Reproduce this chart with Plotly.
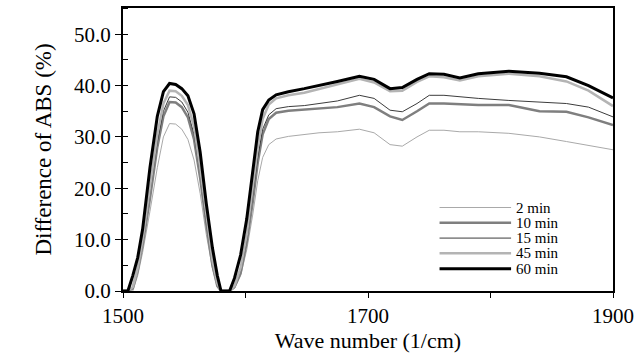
import plotly.graph_objects as go

wavenumber = [1500, 1504, 1508, 1512, 1516, 1522, 1528, 1533, 1538, 1543, 1548, 1553, 1558, 1563, 1568,
              1573, 1577, 1580, 1584, 1587, 1591, 1596, 1601, 1606, 1610, 1614, 1619, 1625, 1635, 1648,
              1660, 1675, 1693, 1705, 1718, 1728, 1740, 1750, 1762, 1775, 1790, 1815, 1840, 1862, 1880, 1900]

abs_2min = [0, 0, 0, 3, 7.5, 15.5, 24, 30, 32.6, 32.5, 31.5, 29.5, 25.5, 19, 11,
            4.5, 0.8, 0, 0, 0, 0.5, 3, 8, 15, 21.5, 26, 28.5, 29.6, 30.1, 30.5,
            30.8, 31.0, 31.5, 30.8, 28.5, 28.2, 30.0, 31.3, 31.3, 31.0, 31.0, 30.7, 30.0, 29.1, 28.3, 27.5]
abs_10min = [0, 0, 0.5, 4, 9, 18, 28, 34, 36.8, 36.7, 35.8, 33.8, 29.5, 22, 13,
             5, 1, 0, 0, 0, 0.8, 3.5, 9.5, 17.5, 25, 30.5, 33.5, 34.7, 35.1, 35.3,
             35.5, 35.8, 36.5, 35.8, 34.0, 33.3, 35.0, 36.5, 36.5, 36.3, 36.2, 36.2, 35.0, 34.9, 33.8, 32.3]
abs_15min = [0, 0, 0.8, 4.5, 9.5, 19, 29, 35, 37.8, 37.7, 36.8, 34.8, 30.5, 23, 13.5,
             5.5, 1.2, 0, 0, 0, 1, 4, 10, 18.5, 26, 31.5, 34.3, 35.5, 35.9, 36.1,
             36.5, 37.0, 38.1, 37.5, 35.2, 34.9, 36.5, 38.1, 38.1, 37.8, 37.5, 37.1, 36.8, 36.5, 35.8, 33.9]
abs_45min = [0, 0, 0.8, 4.5, 10, 20, 30.5, 36.5, 39.0, 38.9, 38.0, 36.2, 32, 24, 14.5,
             6, 1.5, 0, 0, 0, 1, 4.5, 11, 20, 28, 33.5, 36.3, 37.5, 38.1, 38.6,
             39.3, 40.2, 41.3, 40.6, 38.9, 39.0, 40.7, 41.8, 41.6, 41.0, 41.8, 42.3, 41.8, 40.8, 39.0, 36.0]
abs_60min = [0, 0, 3, 6.5, 12, 24, 34, 38.8, 40.4, 40.2, 39.4, 38.0, 34.5, 27, 17,
             8.4, 3, 0, 0, 0, 2.5, 7, 14, 24, 31, 35.3, 37.2, 38.2, 38.8, 39.4,
             40.0, 40.8, 41.8, 41.2, 39.4, 39.6, 41.2, 42.3, 42.2, 41.5, 42.3, 42.8, 42.4, 41.7, 40.0, 37.6]

series_names = ["2 min", "10 min", "15 min", "45 min", "60 min"]
series_values = [abs_2min, abs_10min, abs_15min, abs_45min, abs_60min]
series_colors = ["#a9a9a9", "#7f7f7f", "#3c3c3c", "#b4b4b4", "#000000"]
series_widths = [1, 2.5, 1, 2.5, 3]

font_family = "Liberation Serif"

fig = go.Figure()
for i in range(len(series_names)):
    fig.add_trace(go.Scatter(
        x=wavenumber, y=series_values[i], mode="lines", name=series_names[i],
        line=dict(color=series_colors[i], width=series_widths[i]),
        showlegend=False,
    ))

# manual legend (line samples + labels) inside bottom-right of plot area
legend_y = [0.295, 0.241, 0.187, 0.133, 0.079]
for i, name in enumerate(series_names):
    fig.add_shape(type="line", xref="paper", yref="paper",
                  x0=0.646, x1=0.792, y0=legend_y[i], y1=legend_y[i],
                  line=dict(color=series_colors[i], width=series_widths[i]))
    fig.add_annotation(xref="paper", yref="paper", x=0.800, y=legend_y[i],
                       text=name, showarrow=False, xanchor="left", yanchor="middle",
                       borderpad=0,
                       font=dict(family=font_family, size=15, color="black"))

fig.update_layout(
    width=640, height=363,
    margin=dict(l=123, r=26, t=6, b=72),
    paper_bgcolor="white", plot_bgcolor="white",
    font=dict(family=font_family, size=20, color="black"),
    showlegend=False,
)
fig.update_xaxes(
    range=[1500, 1900], tickvals=[1500, 1700, 1900], ticktext=["1500", "1700", "1900"],
    ticks="outside", ticklen=5, tickcolor="black", tickwidth=1,
    minor=dict(dtick=100, ticks="outside", ticklen=5, tickcolor="black"),
    showline=True, linecolor="black", linewidth=2, mirror=True,
    showgrid=False, zeroline=False,
    title=dict(text="Wave number (1/cm)", font=dict(family=font_family, size=22), standoff=4),
    tickfont=dict(family=font_family, size=21),
)
fig.update_yaxes(
    range=[0, 55.1], tickvals=[0, 10, 20, 30, 40, 50], tickformat=".1f",
    ticks="outside", ticklen=6, tickcolor="black", tickwidth=1,
    minor=dict(dtick=5, ticks="inside", ticklen=5, tickcolor="black"),
    showline=True, linecolor="black", linewidth=2, mirror=True,
    showgrid=False, zeroline=False,
    title=dict(text="Difference of ABS (%)", font=dict(family=font_family, size=23), standoff=16),
    tickfont=dict(family=font_family, size=21),
)

fig.write_html("out.html", config={"displayModeBar": False},
               post_script="document.body.style.margin='0';")
